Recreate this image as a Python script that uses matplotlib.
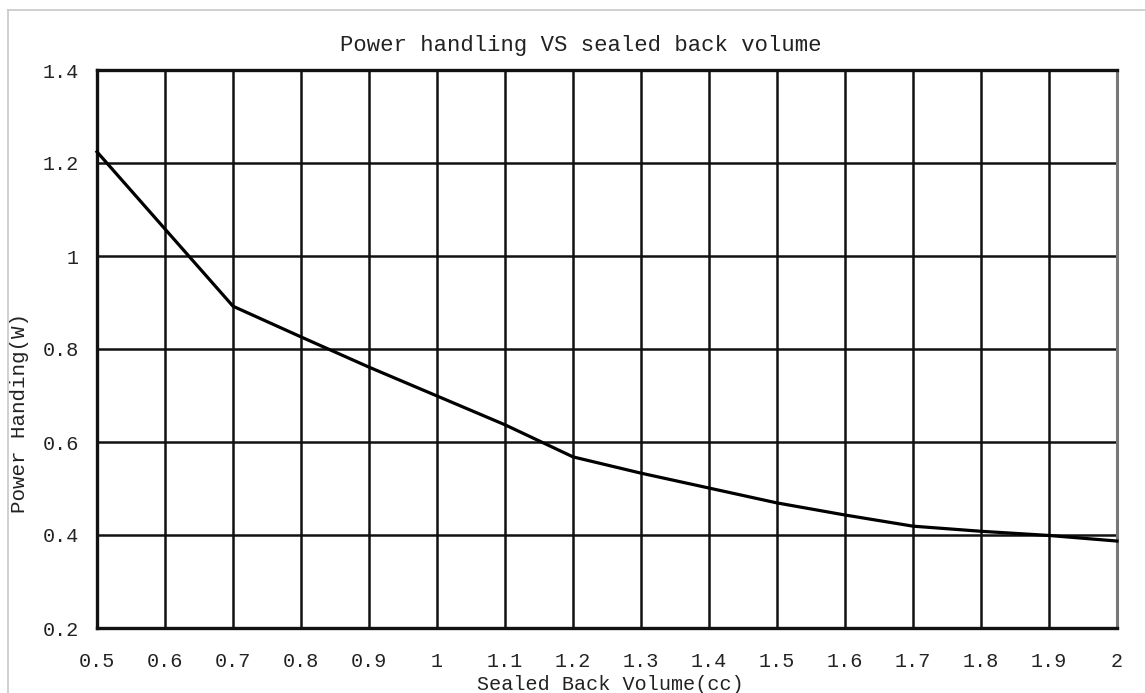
import matplotlib
matplotlib.use("Agg")
import matplotlib.pyplot as plt
from matplotlib.lines import Line2D

# readings of the curve at each 0.1 cc gridline
volume_cc = [0.5, 0.6, 0.7, 0.8, 0.9, 1.0, 1.1, 1.2, 1.3, 1.4, 1.5, 1.6, 1.7, 1.8, 1.9, 2.0]
power_w = [1.224, 1.058, 0.892, 0.826, 0.761, 0.699, 0.637, 0.568, 0.533, 0.501,
           0.469, 0.443, 0.419, 0.408, 0.399, 0.387]

x_ticks = [0.5, 0.6, 0.7, 0.8, 0.9, 1.0, 1.1, 1.2, 1.3, 1.4, 1.5, 1.6, 1.7, 1.8, 1.9, 2.0]
x_labels = ["0.5", "0.6", "0.7", "0.8", "0.9", "1", "1.1", "1.2", "1.3", "1.4",
            "1.5", "1.6", "1.7", "1.8", "1.9", "2"]
y_ticks = [0.2, 0.4, 0.6, 0.8, 1.0, 1.2, 1.4]
y_labels = ["0.2", "0.4", "0.6", "0.8", "1", "1.2", "1.4"]

FONT = ["Liberation Mono", "DejaVu Sans Mono"]
plt.rcParams['font.family'] = FONT

W, H = 1145, 693
fig = plt.figure(figsize=(W / 100, H / 100), dpi=100)
fig.patch.set_facecolor("white")

ax = fig.add_axes([97 / W, 1 - 628 / H, (1117 - 97) / W, (628 - 70) / H])
ax.set_xlim(0.5, 2.0)
ax.set_ylim(0.2, 1.4)

ax.set_xticks(x_ticks)
ax.set_xticklabels(x_labels)
ax.set_yticks(y_ticks)
ax.set_yticklabels(y_labels)
ax.tick_params(length=0, pad=17, labelsize=14.5, colors="#222222")
ax.tick_params(axis="y", pad=13)

ax.grid(True, color="#111111", linewidth=1.8)
ax.set_axisbelow(True)
for side in ["left", "bottom", "top"]:
    ax.spines[side].set_linewidth(2.4)
    ax.spines[side].set_color("#111111")
ax.spines["right"].set_linewidth(2.2)
ax.spines["right"].set_color("#777777")

ax.plot(volume_cc, power_w, color="black", linewidth=2.3, clip_on=False, zorder=3)

fig.text(581 / W, 1 - 45 / H, "Power handling VS sealed back volume",
         ha="center", va="center", fontsize=16, color="#222222")
fig.text(610 / W, 1 - 684 / H, "Sealed Back Volume(cc)",
         ha="center", va="center", fontsize=14.5, color="#222222")
fig.text(20 / W, 1 - 413 / H, "Power Handing(W)", rotation=90,
         ha="center", va="center", fontsize=15, color="#222222")

# thin grey frame of the original screenshot
fig.add_artist(Line2D([8 / W, 8 / W], [0, 1 - 10 / H], transform=fig.transFigure,
                      color="#c8c8c8", linewidth=1.2))
fig.add_artist(Line2D([8 / W, 1], [1 - 10 / H, 1 - 10 / H], transform=fig.transFigure,
                      color="#c8c8c8", linewidth=1.2))

fig.savefig("out.png", dpi=100)
